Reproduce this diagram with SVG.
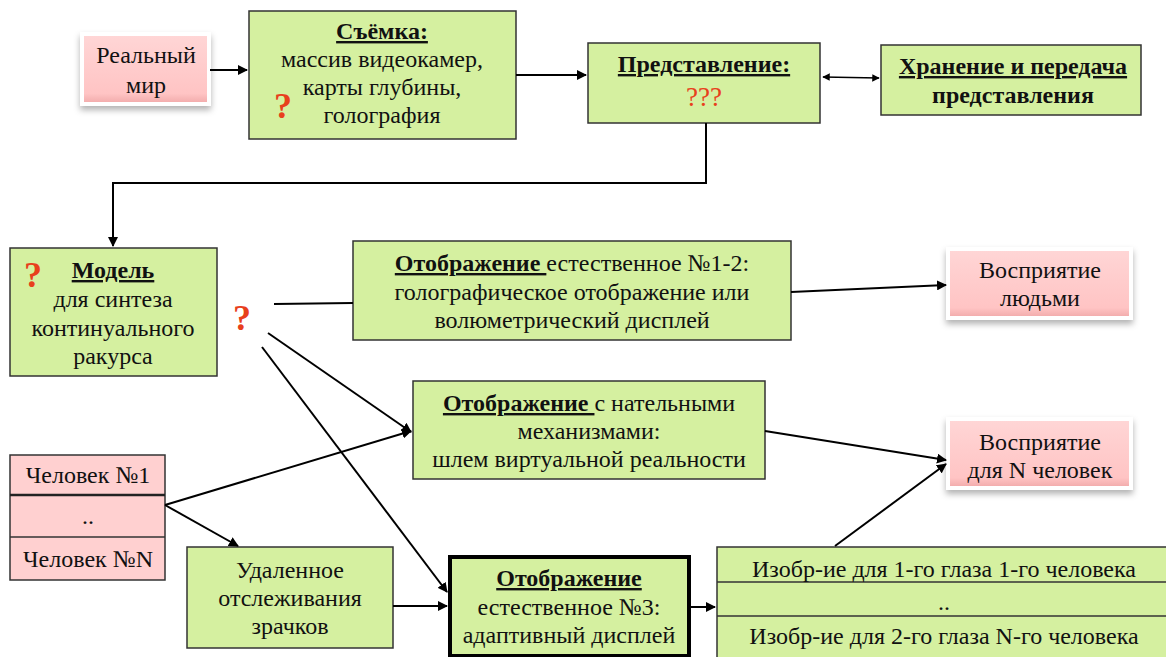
<svg xmlns="http://www.w3.org/2000/svg" width="1166" height="657" viewBox="0 0 1166 657" font-family="Liberation Serif, Times New Roman, serif">
<style>
text{font-size:24px;fill:#111;text-anchor:middle}
.b{font-weight:bold}
.u{text-decoration:underline}
.q{fill:#e8401c;font-weight:bold;font-size:36px}
.g{fill:#d5f0a0;stroke:#333;stroke-width:1.5}
.p{fill:url(#pk);stroke:#fff;stroke-width:4;filter:url(#sh)}
.pt{fill:#ffd0d0;stroke:#333;stroke-width:1.5}
.c{stroke:#000;stroke-width:2;fill:none}
</style>
<defs>
<linearGradient id="pk" x1="0" y1="0" x2="0" y2="1">
<stop offset="0" stop-color="#ffd6d6"/><stop offset="0.85" stop-color="#ffc4c4"/><stop offset="1" stop-color="#f0a8a8"/>
</linearGradient>
<filter id="sh" x="-20%" y="-20%" width="140%" height="160%">
<feDropShadow dx="0" dy="4" stdDeviation="3" flood-color="#000" flood-opacity="0.3"/>
</filter>
<marker id="a" viewBox="0 0 10 10" refX="9" refY="5" markerWidth="5" markerHeight="5" orient="auto-start-reverse">
<path d="M0,0 L10,5 L0,10 z" fill="#000"/>
</marker>
</defs>

<g id="real">
<rect class="p" x="82" y="34" width="127" height="70"/>
<text x="146" y="63">Реальный</text>
<text x="146" y="93">мир</text>
</g>

<g id="capture">
<rect class="g" x="249" y="11" width="267" height="128"/>
<text x="382" y="39" class="b u">Съёмка:</text>
<text x="382" y="67">массив видеокамер,</text>
<text x="382" y="95">карты глубины,</text>
<text x="382" y="123">голография</text>
<text x="283" y="118" class="q">?</text>
</g>

<g id="repr">
<rect class="g" x="588" y="43" width="232" height="80"/>
<text x="704" y="72" class="b u">Представление:</text>
<text x="704" y="106" style="fill:#e8401c;font-size:27px">???</text>
</g>

<g id="storage">
<rect class="g" x="881" y="45" width="260" height="70"/>
<text x="1013" y="74" class="b u">Хранение и передача</text>
<text x="1013" y="103" class="b">представления</text>
</g>

<g id="model">
<rect class="g" x="10" y="248" width="207" height="128"/>
<text x="33" y="287" class="q">?</text>
<text x="113" y="278" class="b u">Модель</text>
<text x="113" y="307">для синтеза</text>
<text x="113" y="336">континуального</text>
<text x="113" y="364">ракурса</text>
</g>

<g id="q-mid">
<text x="242" y="330" class="q">?</text>
</g>

<g id="disp12">
<rect class="g" x="353" y="241" width="438" height="99"/>
<text x="572" y="271"><tspan class="b u">Отображение </tspan>естественное №1-2:</text>
<text x="572" y="300">голографическое отображение или</text>
<text x="572" y="328">волюметрический дисплей</text>
</g>

<g id="perc1">
<rect class="p" x="948" y="249" width="183" height="69"/>
<text x="1040" y="278">Восприятие</text>
<text x="1040" y="306">людьми</text>
</g>

<g id="dispwear">
<rect class="g" x="413" y="381" width="352" height="98"/>
<text x="589" y="411"><tspan class="b u">Отображение </tspan>с нательными</text>
<text x="589" y="439">механизмами:</text>
<text x="589" y="467">шлем виртуальной реальности</text>
</g>

<g id="percN">
<rect class="p" x="948" y="419" width="183" height="69"/>
<text x="1040" y="450">Восприятие</text>
<text x="1040" y="478">для N человек</text>
</g>

<g id="people">
<rect class="pt" x="10" y="455" width="155" height="125"/>
<line x1="10" y1="495" x2="165" y2="495" stroke="#222" stroke-width="2.5"/>
<line x1="10" y1="537" x2="165" y2="537" stroke="#333" stroke-width="1.5"/>
<text x="88" y="483">Человек №1</text>
<text x="88" y="524">..</text>
<text x="88" y="567">Человек №N</text>
</g>

<g id="tracking">
<rect class="g" x="187" y="547" width="206" height="101"/>
<text x="290" y="578">Удаленное</text>
<text x="290" y="606">отслеживания</text>
<text x="290" y="634">зрачков</text>
</g>

<g id="disp3">
<rect class="g" x="450" y="557" width="239" height="99" style="stroke:#000;stroke-width:4"/>
<text x="569" y="586" class="b u">Отображение</text>
<text x="569" y="615">естественное №3:</text>
<text x="569" y="643">адаптивный дисплей</text>
</g>

<g id="images">
<rect class="g" x="717" y="547" width="450" height="112"/>
<line x1="717" y1="582" x2="1166" y2="582" stroke="#333" stroke-width="1.5"/>
<line x1="717" y1="616" x2="1166" y2="616" stroke="#333" stroke-width="1.5"/>
<text x="944" y="577">Изобр-ие для 1-го глаза 1-го человека</text>
<text x="944" y="610">..</text>
<text x="944" y="644">Изобр-ие для 2-го глаза N-го человека</text>
</g>

<g id="connectors">
<line class="c" x1="210" y1="70" x2="247" y2="70" marker-end="url(#a)"/>
<line class="c" x1="516" y1="75" x2="586" y2="75" marker-end="url(#a)"/>
<line class="c" x1="823" y1="77" x2="879" y2="78" marker-start="url(#a)" marker-end="url(#a)" style="stroke-width:1.5"/>
<polyline class="c" points="706,123 706,183 113,183 113,246" marker-end="url(#a)"/>
<line class="c" x1="274" y1="304" x2="353" y2="303"/>
<line class="c" x1="791" y1="292" x2="946" y2="285" marker-end="url(#a)"/>
<line class="c" x1="268" y1="333" x2="411" y2="432" marker-end="url(#a)"/>
<line class="c" x1="262" y1="347" x2="447" y2="592" marker-end="url(#a)"/>
<line class="c" x1="765" y1="431" x2="946" y2="460" marker-end="url(#a)"/>
<line class="c" x1="165" y1="505" x2="411" y2="431" marker-end="url(#a)"/>
<line class="c" x1="165" y1="505" x2="238" y2="546" marker-end="url(#a)"/>
<line class="c" x1="393" y1="606" x2="447" y2="606" marker-end="url(#a)"/>
<line class="c" x1="690" y1="607" x2="715" y2="607" marker-end="url(#a)"/>
<line class="c" x1="835" y1="546" x2="946" y2="464" marker-end="url(#a)"/>
</g>
</svg>
